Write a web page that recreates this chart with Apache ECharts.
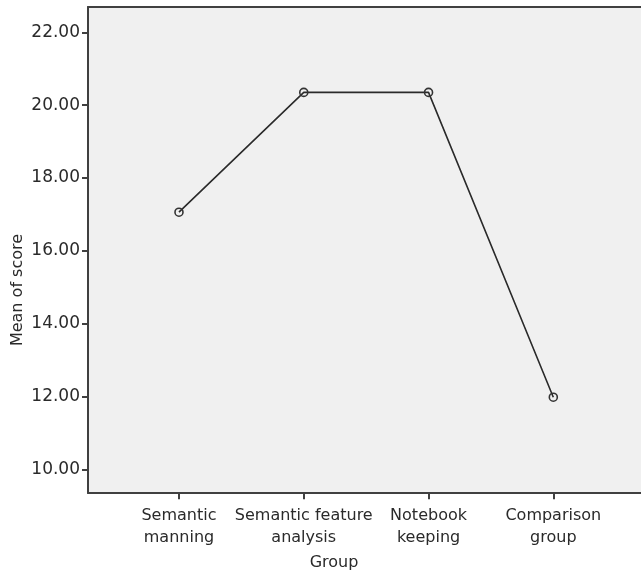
<!DOCTYPE html>
<html>
<head>
<meta charset="utf-8">
<script src="https://cdn.jsdelivr.net/npm/echarts@6/dist/echarts.min.js"></script>
<style>html,body{margin:0;padding:0;background:#fff;}#c{width:641px;height:574px;}</style>
</head>
<body>
<div id="c"></div>
<script>
var categories = ['Semantic\nmanning', 'Semantic feature\nanalysis', 'Notebook\nkeeping', 'Comparison\ngroup'];
var meanScore = [17.06, 20.35, 20.35, 11.98];
var yMin = 10, yMax = 22, yStep = 2;
var xTitle = 'Group';
var yTitle = 'Mean of score';

var FONT = 'DejaVu Sans';
var frameLine = {show: true, lineStyle: {color: '#404040', width: 2}};
var chart = echarts.init(document.getElementById('c'), null, {renderer: 'canvas'});
chart.setOption({
  animation: false,
  backgroundColor: '#ffffff',
  grid: [
    {left: 88, right: 0, top: 7, bottom: 81, show: true, backgroundColor: '#f0f0f0', borderWidth: 0},
    {left: 116.6, right: 25.3, top: 32.3, bottom: 104.7}
  ],
  xAxis: [
    {gridIndex: 0, type: 'value', position: 'bottom', axisLine: frameLine, axisTick: {show: false}, axisLabel: {show: false}, splitLine: {show: false}},
    {gridIndex: 1, type: 'category', data: categories, boundaryGap: true, offset: 24,
     axisLine: {show: false},
     axisTick: {show: true, alignWithLabel: true, length: 6, lineStyle: {color: '#404040', width: 2}},
     axisLabel: {interval: 0, fontFamily: FONT, fontSize: 16, color: '#2a2a2a', lineHeight: 22, margin: 12}},
    {gridIndex: 0, type: 'value', position: 'top', axisLine: frameLine, axisTick: {show: false}, axisLabel: {show: false}, splitLine: {show: false}}
  ],
  yAxis: [
    {gridIndex: 0, type: 'value', position: 'left', axisLine: frameLine, axisTick: {show: false}, axisLabel: {show: false}, splitLine: {show: false}},
    {gridIndex: 1, type: 'value', min: yMin, max: yMax, interval: yStep, offset: 28.6,
     axisLine: {show: false},
     axisTick: {show: true, length: 6, lineStyle: {color: '#404040', width: 2}},
     splitLine: {show: false},
     axisLabel: {fontFamily: FONT, fontSize: 17, color: '#2a2a2a', margin: 8,
       formatter: function (v) { return v.toFixed(2); }}}
  ],
  graphic: [
    {type: 'text', x: 334, y: 563, style: {text: xTitle, font: '16px "DejaVu Sans"', fill: '#2a2a2a', textAlign: 'center', textVerticalAlign: 'middle'}},
    {type: 'text', x: 18, y: 290, rotation: Math.PI / 2, style: {text: yTitle, font: '16px "DejaVu Sans"', fill: '#2a2a2a', textAlign: 'center', textVerticalAlign: 'middle'}}
  ],
  series: [{
    type: 'line', xAxisIndex: 1, yAxisIndex: 1, data: meanScore,
    symbol: 'circle', symbolSize: 8,
    lineStyle: {color: '#2a2a2a', width: 1.6},
    itemStyle: {color: 'rgba(0,0,0,0)', borderColor: '#333', borderWidth: 1.6}
  }]
});
</script>
</body>
</html>
